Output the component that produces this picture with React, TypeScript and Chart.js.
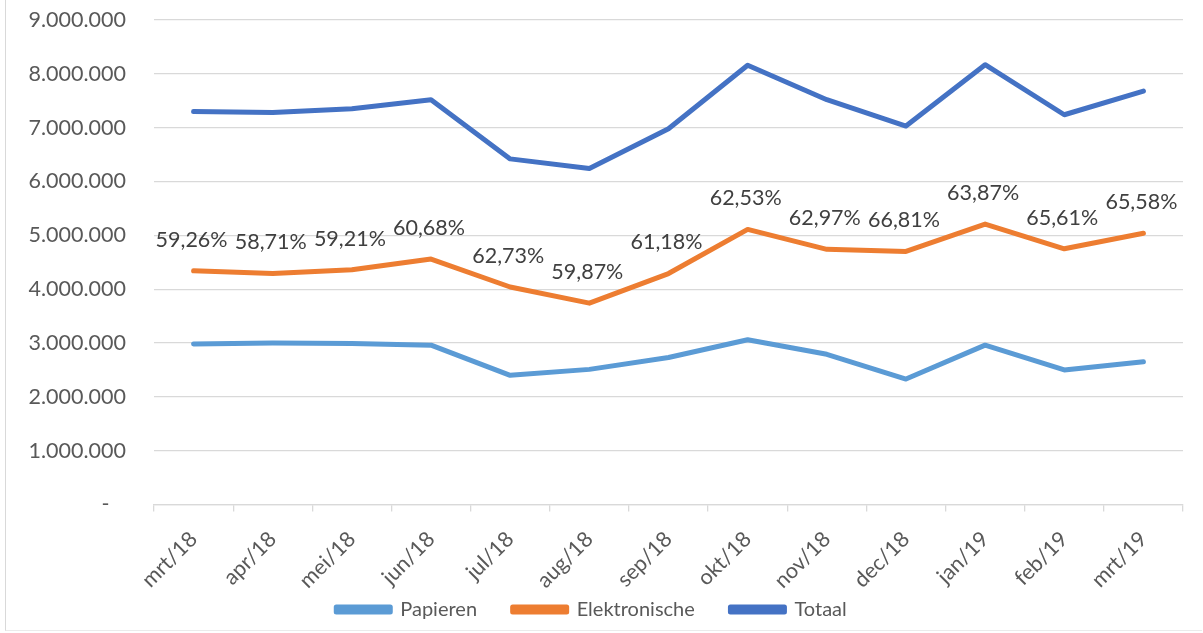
import React, { useEffect, useRef } from "react";
import { Chart, registerables } from "chart.js";

Chart.register(...registerables);

const months = ["mrt/18", "apr/18", "mei/18", "jun/18", "jul/18", "aug/18", "sep/18", "okt/18", "nov/18", "dec/18", "jan/19", "feb/19", "mrt/19"];
const papieren = [2980000, 3000000, 2990000, 2960000, 2400000, 2510000, 2730000, 3060000, 2790000, 2330000, 2960000, 2500000, 2650000];
const elektronische = [4340000, 4290000, 4360000, 4560000, 4040000, 3740000, 4290000, 5110000, 4740000, 4700000, 5210000, 4750000, 5040000];
const totaal = [7300000, 7280000, 7350000, 7520000, 6420000, 6240000, 6980000, 8160000, 7520000, 7030000, 8170000, 7240000, 7680000];
const percentLabels = ["59,26%", "58,71%", "59,21%", "60,68%", "62,73%", "59,87%", "61,18%", "62,53%", "62,97%", "66,81%", "63,87%", "65,61%", "65,58%"];

const FONT = "Lato, 'Open Sans', sans-serif";
const FONT_SIZE = 21.5;

function fmt(v: number): string {
  if (v === 0) return "-   ";
  return Math.round(v).toString().replace(/\B(?=(\d{3})+(?!\d))/g, ".");
}

const pctPlugin = {
  id: "pctLabels",
  afterDatasetsDraw(chart: any) {
    const meta = chart.getDatasetMeta(1);
    const ctx = chart.ctx;
    ctx.save();
    ctx.font = `${FONT_SIZE}px ${FONT}`;
    ctx.fillStyle = "#404040";
    ctx.textAlign = "center";
    ctx.textBaseline = "middle";
    meta.data.forEach((pt: any, i: number) => {
      ctx.fillText(percentLabels[i], pt.x - 2, pt.y - 31);
    });
    ctx.restore();
  },
};

export default function App() {
  const ref = useRef<HTMLCanvasElement | null>(null);
  useEffect(() => {
    if (!ref.current) return;
    const lineDs = (label: string, data: number[], color: string) => ({
      label,
      data,
      borderColor: color,
      backgroundColor: color,
      borderWidth: 5,
      pointRadius: 0,
      pointHoverRadius: 0,
      tension: 0,
      borderCapStyle: "round" as const,
      borderJoinStyle: "round" as const,
    });
    const chart = new Chart(ref.current, {
      type: "line",
      data: {
        labels: months,
        datasets: [
          lineDs("Papieren", papieren, "#5B9BD5"),
          lineDs("Elektronische", elektronische, "#ED7D31"),
          lineDs("Totaal", totaal, "#4472C4"),
        ],
      },
      options: {
        animation: false,
        responsive: true,
        maintainAspectRatio: false,
        layout: { padding: { top: 20, right: 20, left: 0, bottom: 3.5 } },
        plugins: {
          tooltip: { enabled: false },
          legend: {
            position: "bottom",
            labels: {
              boxWidth: 54,
              boxHeight: 5,
              padding: 10,
              color: "#595959",
              font: { family: FONT, size: 20 },
              generateLabels: (ch: any) => {
                const items = Chart.defaults.plugins.legend.labels.generateLabels(ch);
                return items.map((it: any, i: number) => ({
                  ...it,
                  text: i < items.length - 1 ? it.text + "     " : it.text,
                }));
              },
            },
          },
        },
        scales: {
          x: {
            offset: true,
            grid: {
              display: true,
              offset: true,
              drawOnChartArea: false,
              drawTicks: true,
              tickLength: 7,
              color: "#d9d9d9",
              lineWidth: 1.3,
            },
            border: { display: true, color: "#d9d9d9", width: 1.3 },
            ticks: {
              color: "#595959",
              font: { family: FONT, size: FONT_SIZE },
              maxRotation: 45,
              minRotation: 45,
              padding: 15,
              autoSkip: false,
            },
            afterFit: (s: any) => {
              s.height = 85;
            },
          },
          y: {
            min: 0,
            max: 9000000,
            grid: { color: "#d9d9d9", drawTicks: false, lineWidth: 1.3 },
            border: { display: false },
            ticks: {
              stepSize: 1000000,
              color: "#595959",
              font: { family: FONT, size: FONT_SIZE },
              padding: 28,
              callback: (v: any) => fmt(Number(v)),
            },
            afterFit: (s: any) => {
              s.width = 154;
              s.paddingTop = 0;
              s.paddingBottom = 0;
            },
          },
        },
      },
      plugins: [pctPlugin],
    });
    return () => chart.destroy();
  }, []);

  return (
    <div style={{ position: "fixed", left: 0, top: 0, width: 1203, height: 633, background: "#fff" }}>
      <div
        style={{
          position: "absolute",
          left: 5,
          top: -2,
          width: 1197,
          height: 633,
          borderLeft: "1.5px solid #d9d9d9",
          borderBottom: "1.5px solid #ebebeb",
          boxSizing: "border-box",
        }}
      />
      <canvas ref={ref} style={{ position: "absolute", left: 0, top: 0, width: 1203, height: 633 }} />
    </div>
  );
}
